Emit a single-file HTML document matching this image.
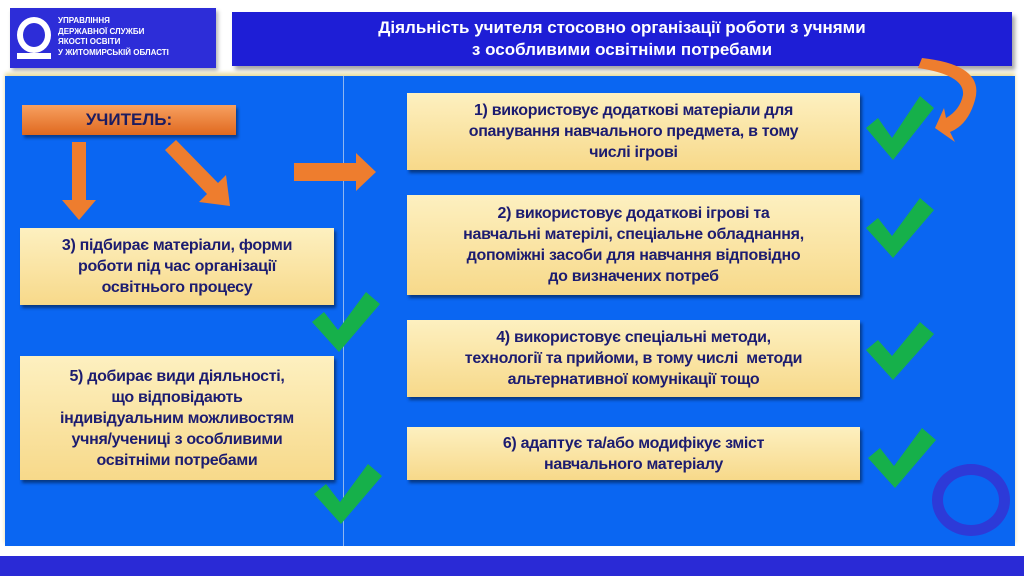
<!DOCTYPE html>
<html><head><meta charset="utf-8"><style>
body{margin:0;width:1024px;height:576px;background:#fff;position:relative;overflow:hidden;font-family:"Liberation Sans",sans-serif}
.a{position:absolute}
.box{position:absolute;background:linear-gradient(#fdf0c0,#f7d98a);box-shadow:2px 3px 3px rgba(0,0,0,.45);color:#1c1c70;font-weight:bold;font-size:16px;line-height:21px;text-align:center;display:flex;align-items:center;justify-content:center;letter-spacing:-0.3px}
</style></head><body>
<div class="a" style="left:10px;top:8px;width:206px;height:60px;background:#2d2dd8;box-shadow:2px 3px 4px rgba(0,0,0,.3)"></div>
<div class="a" style="left:17px;top:17px;width:22px;height:24px;border:6px solid #fff;border-radius:50%"></div>
<div class="a" style="left:17px;top:53px;width:34px;height:6px;background:#fff"></div>
<div class="a" style="left:58px;top:16px;color:#fff;font-size:8px;line-height:10.5px;font-weight:bold">УПРАВЛІННЯ<br>ДЕРЖАВНОЇ СЛУЖБИ<br>ЯКОСТІ ОСВІТИ<br>У ЖИТОМИРСЬКІЙ ОБЛАСТІ</div>
<div class="a" style="left:232px;top:12px;width:780px;height:54px;background:#1e1ed6;box-shadow:3px 4px 4px rgba(0,0,0,.35);color:#fff;font-weight:bold;font-size:17px;line-height:22px;text-align:center;padding-top:5px;box-sizing:border-box">Діяльність учителя стосовно організації роботи з учнями<br>з особливими освітніми потребами</div>
<div class="a" style="left:5px;top:76px;width:1010px;height:470px;background:#0a66f2;box-shadow:0 -3px 4px #e8dca0"></div>
<div class="a" style="left:343px;top:76px;width:1px;height:470px;background:#8fb6f0"></div>
<div class="a" style="left:0;top:556px;width:1024px;height:20px;background:#2a2ad6"></div>
<div class="a" style="left:932px;top:464px;width:58px;height:58px;border:11px solid #2d3ad8;border-radius:50%;box-sizing:border-box;width:78px;height:72px"></div>
<div class="a" style="left:22px;top:105px;width:214px;height:30px;background:linear-gradient(#f7a060,#e0691f);box-shadow:2px 3px 3px rgba(0,0,0,.4);color:#1c1c60;font-weight:bold;font-size:17px;line-height:30px;text-align:center">УЧИТЕЛЬ:</div>
<svg class="a" style="left:0;top:0" width="1024" height="576">
<g fill="#ee7d2e">
<polygon points="72,142 86,142 86,200 96,200 79,220 62,200 72,200"/>
<polygon points="165,150 176,140 218,183 226,175 230,206 199,202 207,194"/>
<polygon points="294,163 356,163 356,153 376,172 356,191 356,181 294,181"/>
<path d="M922,58 Q985,65 975,100 Q968,125 950,132 L955,142 L935,128 L944,108 L946,118 Q960,110 963,95 Q965,75 918,68 Z"/>
</g>
<g fill="#16b04a">
<polygon points="866,128 878,118 892,138 920,96 934,108 893,160"/>
<polygon points="866,228 878,218 892,236 920,198 934,210 893,258"/>
<polygon points="866,350 878,340 892,356 920,322 934,334 893,380"/>
<polygon points="868,458 880,448 894,466 922,428 936,440 895,488"/>
<polygon points="312,322 324,312 338,330 366,292 380,304 339,352"/>
<polygon points="314,494 326,484 340,502 368,464 382,476 341,524"/>
</g>
</svg>
<div class="box" style="left:407px;top:93px;width:453px;height:77px">1) використовує додаткові матеріали для<br>опанування навчального предмета, в тому<br>числі ігрові</div>
<div class="box" style="left:407px;top:195px;width:453px;height:100px">2) використовує додаткові ігрові та<br>навчальні матерілі, спеціальне обладнання,<br>допоміжні засоби для навчання відповідно<br>до визначених потреб</div>
<div class="box" style="left:407px;top:320px;width:453px;height:77px">4) використовує спеціальні методи,<br>технології та прийоми, в тому числі&nbsp; методи<br>альтернативної комунікації тощо</div>
<div class="box" style="left:407px;top:427px;width:453px;height:53px">6) адаптує та/або модифікує зміст<br>навчального матеріалу</div>
<div class="box" style="left:20px;top:228px;width:314px;height:77px">3) підбирає матеріали, форми<br>роботи під час організації<br>освітнього процесу</div>
<div class="box" style="left:20px;top:356px;width:314px;height:124px">5) добирає види діяльності,<br>що відповідають<br>індивідуальним можливостям<br>учня/учениці з особливими<br>освітніми потребами</div>
</body></html>
